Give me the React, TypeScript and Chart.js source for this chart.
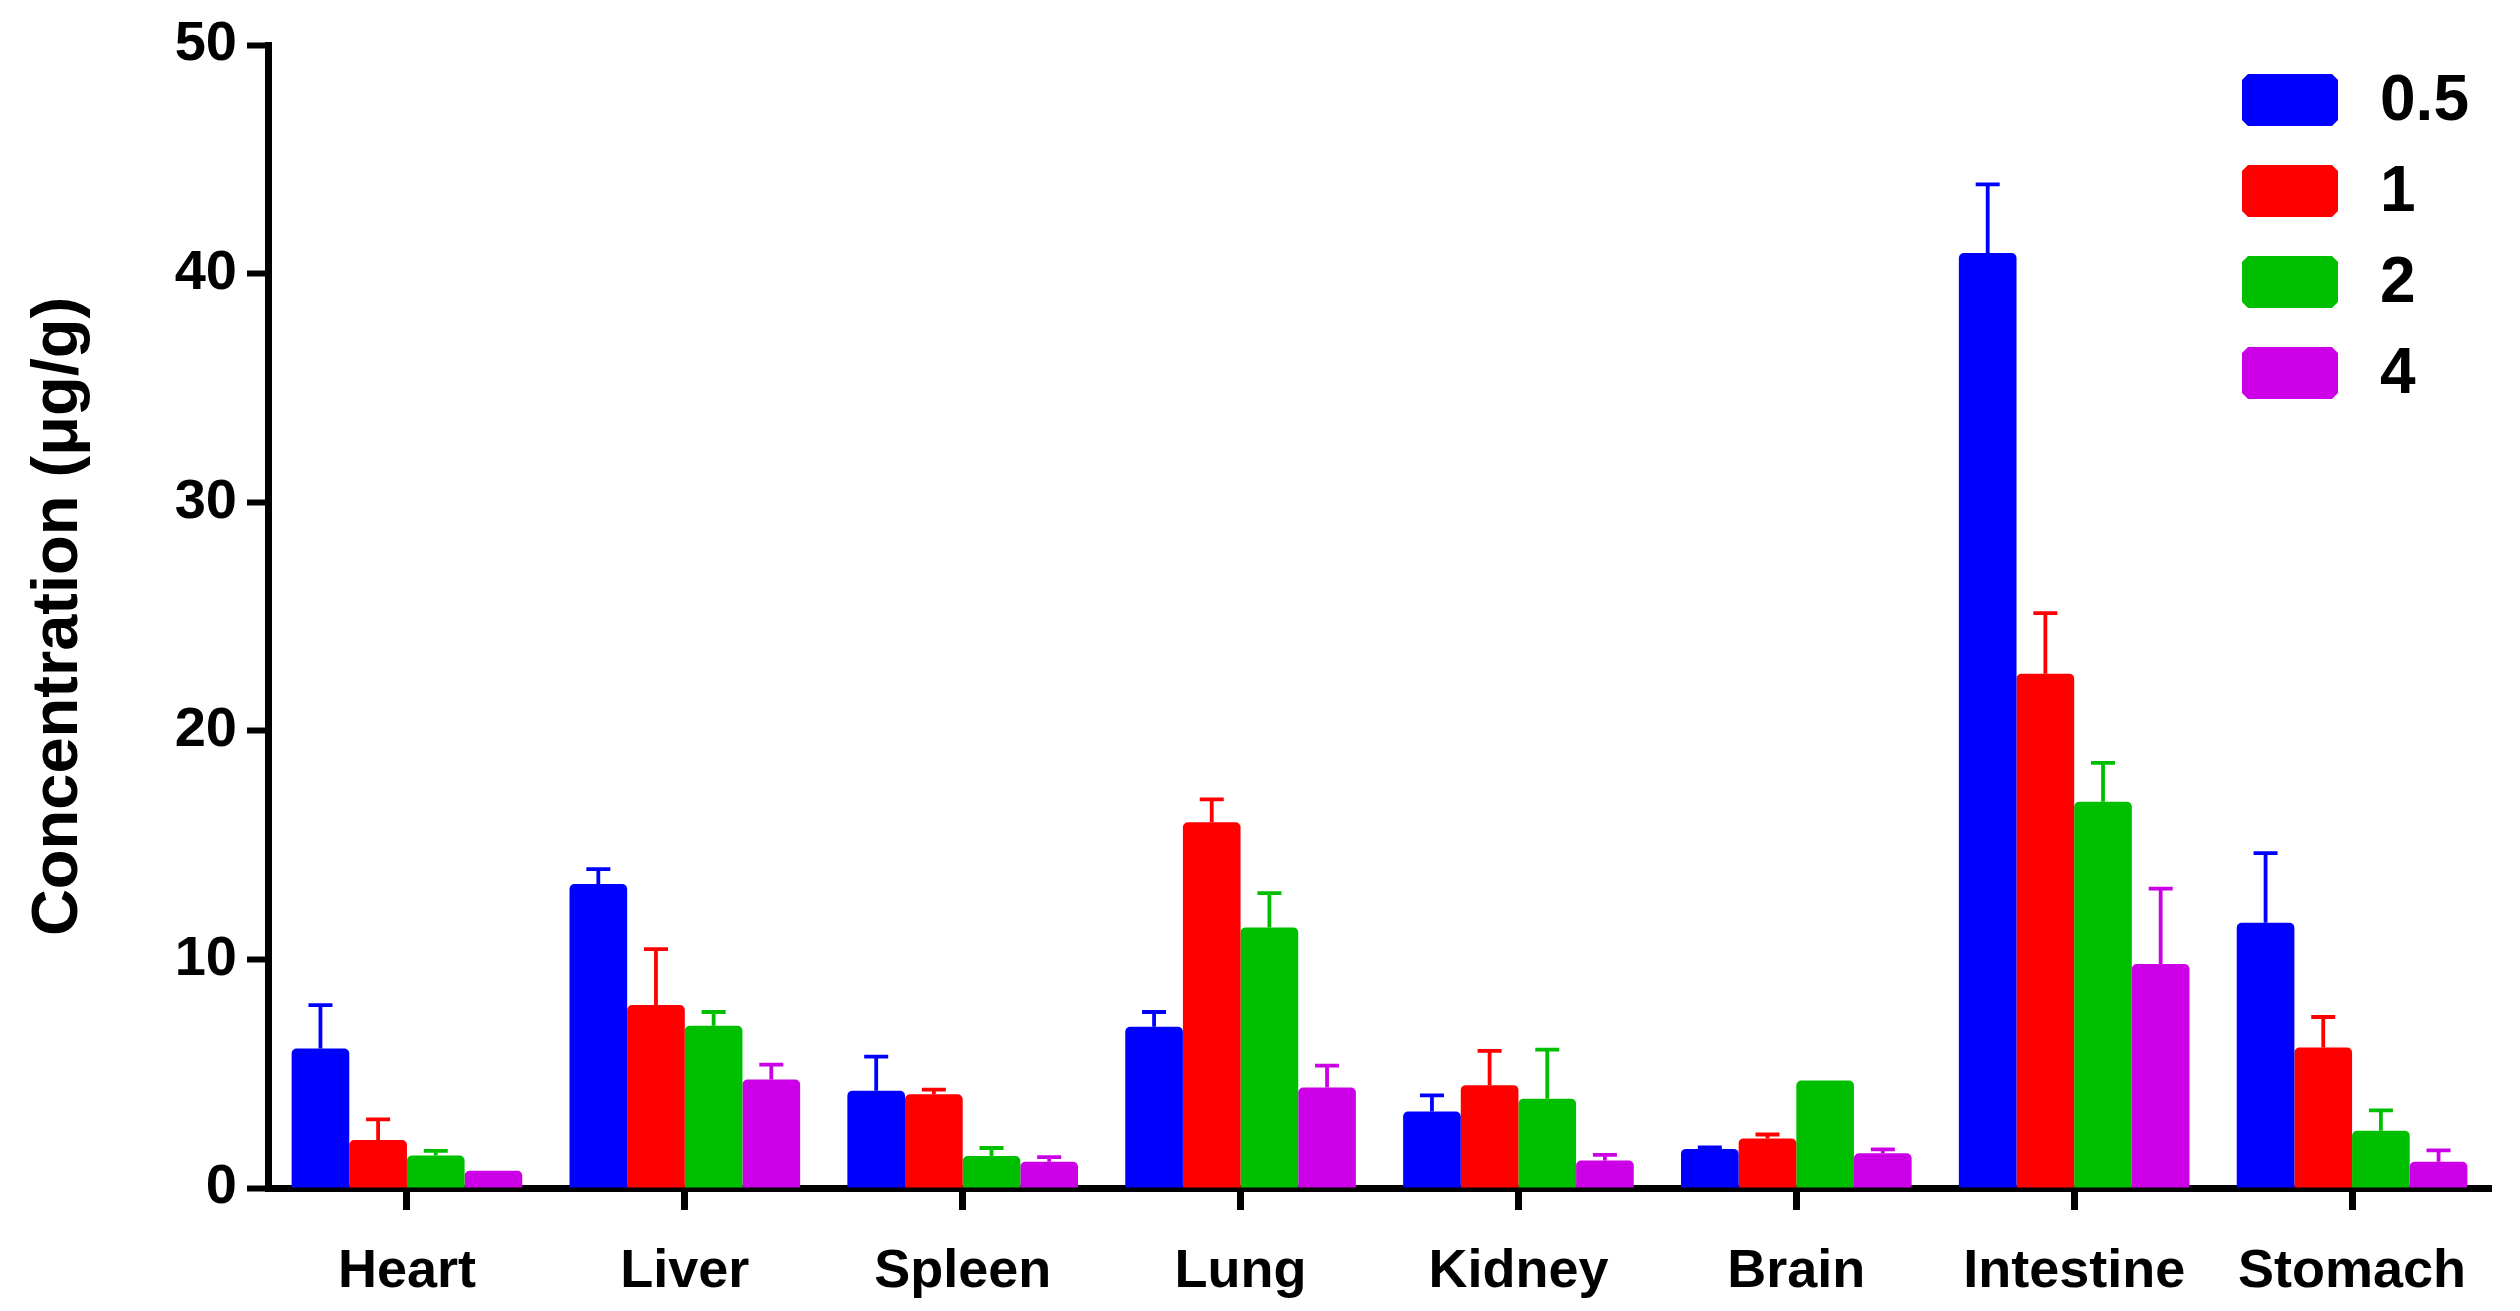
import React, { useEffect, useRef } from 'react';
import { Chart, registerables } from 'chart.js';

Chart.register(...registerables);

const FONT = '"Liberation Sans", Arial, Helvetica, sans-serif';

const categories = ['Heart', 'Liver', 'Spleen', 'Lung', 'Kidney', 'Brain', 'Intestine', 'Stomach'];
const seriesLabels = ['0.5', '1', '2', '4'];
const seriesColors = ['#0000FF', '#FF0000', '#00BF00', '#CC00E6'];

const values05 = [6.1, 13.3, 4.25, 7.05, 3.35, 1.71, 40.9, 11.6];
const values1 = [2.1, 8.0, 4.1, 16.0, 4.5, 2.17, 22.5, 6.15];
const values2 = [1.42, 7.1, 1.4, 11.4, 3.9, 4.7, 16.9, 2.5];
const values4 = [0.75, 4.75, 1.15, 4.4, 1.2, 1.52, 9.8, 1.15];

const err05 = [1.9, 0.65, 1.5, 0.65, 0.7, 0.07, 3.0, 3.05];
const err1 = [0.9, 2.45, 0.2, 1.0, 1.5, 0.17, 2.65, 1.33];
const err2 = [0.2, 0.6, 0.35, 1.5, 2.15, 0, 1.7, 0.9];
const err4 = [0, 0.65, 0.2, 0.95, 0.25, 0.17, 3.3, 0.5];

const yTicks = [0, 10, 20, 30, 40, 50];
const yTitle = 'Concentration (μg/g)';

const seriesValues = [values05, values1, values2, values4];
const seriesErrors = [err05, err1, err2, err4];

export default function App() {
  const ref = useRef<HTMLCanvasElement>(null);

  useEffect(() => {
    if (!ref.current) return;

    const errorBarPlugin = {
      id: 'errorBars',
      afterDatasetsDraw(chart: any) {
        const ctx = chart.ctx;
        const y = chart.scales.y;
        chart.data.datasets.forEach((ds: any, i: number) => {
          const meta = chart.getDatasetMeta(i);
          meta.data.forEach((el: any, j: number) => {
            const e = seriesErrors[i][j];
            if (!e) return;
            const top = y.getPixelForValue(ds.data[j] + e);
            ctx.save();
            ctx.strokeStyle = seriesColors[i];
            ctx.lineWidth = 3.8;
            ctx.lineCap = 'butt';
            ctx.beginPath();
            ctx.moveTo(el.x, el.y);
            ctx.lineTo(el.x, top);
            ctx.moveTo(el.x - 12, top);
            ctx.lineTo(el.x + 12, top);
            ctx.stroke();
            ctx.restore();
          });
        });
      },
    };

    const legendPlugin = {
      id: 'customLegend',
      afterDraw(chart: any) {
        const ctx = chart.ctx;
        ctx.save();
        seriesLabels.forEach((label, i) => {
          const bx = 2242;
          const by = 74 + i * 91;
          const bw = 96;
          const bh = 52;
          const c = 6;
          ctx.fillStyle = seriesColors[i];
          ctx.beginPath();
          ctx.moveTo(bx + c, by);
          ctx.lineTo(bx + bw - c, by);
          ctx.lineTo(bx + bw, by + c);
          ctx.lineTo(bx + bw, by + bh - c);
          ctx.lineTo(bx + bw - c, by + bh);
          ctx.lineTo(bx + c, by + bh);
          ctx.lineTo(bx, by + bh - c);
          ctx.lineTo(bx, by + c);
          ctx.closePath();
          ctx.fill();
          ctx.fillStyle = '#000';
          ctx.font = `bold 64px ${FONT}`;
          ctx.textAlign = 'left';
          ctx.textBaseline = 'middle';
          ctx.fillText(label, 2380, by + bh / 2 + 2);
        });
        ctx.restore();
      },
    };

    const chart = new Chart(ref.current, {
      type: 'bar',
      data: {
        labels: categories,
        datasets: seriesLabels.map((label, i) => ({
          label,
          data: seriesValues[i],
          backgroundColor: seriesColors[i],
          borderWidth: 0,
          borderRadius: 5,
          borderSkipped: 'start',
          categoryPercentage: 0.83,
          barPercentage: 1.0,
        })),
      },
      options: {
        animation: false,
        responsive: true,
        maintainAspectRatio: false,
        color: '#000',
        layout: { padding: { top: 45, right: 29, left: 0, bottom: 0 } },
        plugins: {
          legend: { display: false },
          tooltip: { enabled: false },
        },
        scales: {
          x: {
            z: 1,
            offset: true,
            afterFit: (scale: any) => {
              scale.height = 123;
            },
            grid: {
              display: true,
              offset: false,
              drawOnChartArea: false,
              drawTicks: true,
              tickLength: 22,
              tickWidth: 7,
              tickColor: '#000',
            },
            border: { display: true, color: '#000', width: 7 },
            ticks: {
              color: '#000',
              font: { family: FONT, size: 54, weight: 'bold' },
              padding: 30,
              maxRotation: 0,
              autoSkip: false,
            },
          },
          y: {
            z: 1,
            min: 0,
            max: 50,
            afterFit: (scale: any) => {
              scale.width = 268;
            },
            afterBuildTicks: (scale: any) => {
              scale.ticks = yTicks.map((v) => ({ value: v }));
            },
            grid: {
              display: true,
              drawOnChartArea: false,
              drawTicks: true,
              tickLength: 21,
              tickWidth: 6,
              tickColor: '#000',
            },
            border: { display: true, color: '#000', width: 7 },
            ticks: {
              color: '#000',
              font: { family: FONT, size: 56, weight: 'bold' },
              padding: 10,
            },
            title: {
              display: true,
              text: yTitle,
              color: '#000',
              font: { family: FONT, size: 65, weight: 'bold' },
              padding: { top: 20, bottom: 0 },
            },
          },
        },
      },
      plugins: [errorBarPlugin, legendPlugin],
    });

    return () => chart.destroy();
  }, []);

  return (
    <div style={{ position: 'absolute', left: 0, top: 0, width: 2520, height: 1311 }}>
      <canvas ref={ref} />
    </div>
  );
}
